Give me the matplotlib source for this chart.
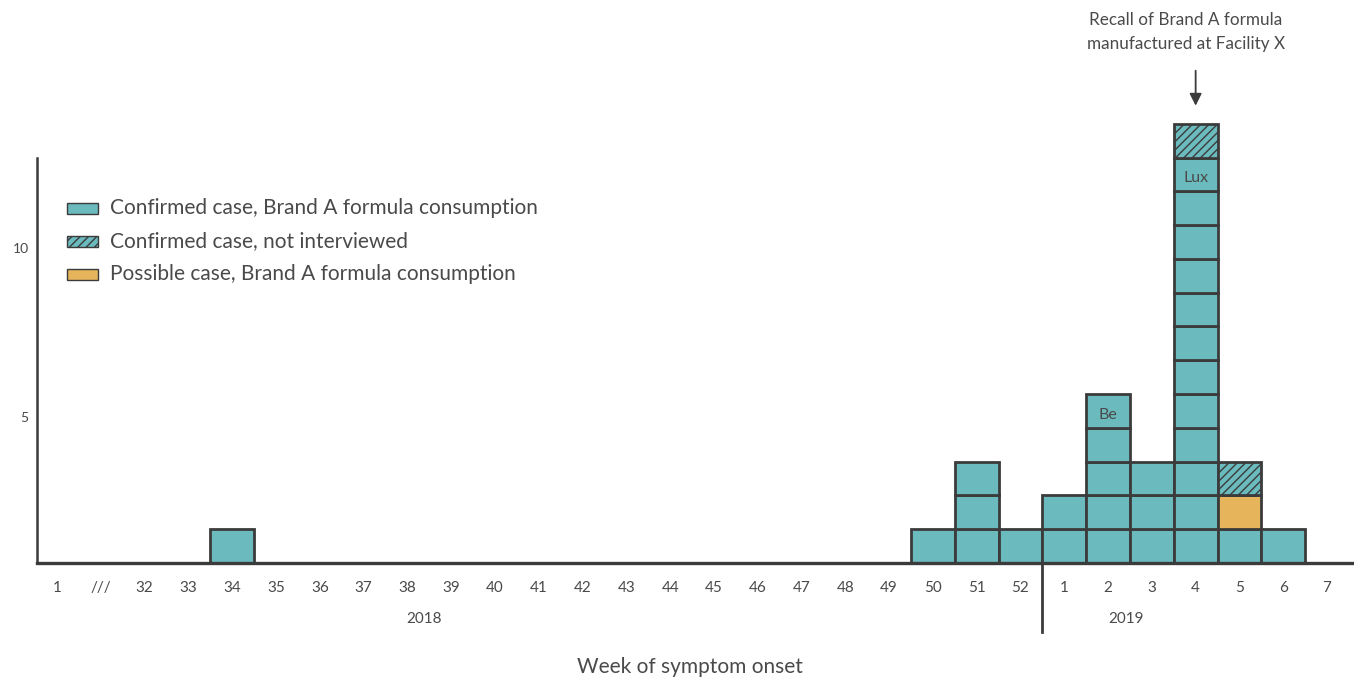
import numpy as np
import matplotlib.pyplot as plt

# Week categories on the x axis (2018: 1, gap, 32-52; 2019: 1-7)
weeks = ['1', '///'] + [str(w) for w in range(32, 53)] + [str(w) for w in range(1, 8)]

# cases per week by type, stacked bottom to top: confirmed, possible, not interviewed
confirmed = [0, 0, 0, 0, 1, 0, 0, 0, 0, 0, 0, 0, 0, 0, 0, 0, 0, 0, 0, 0, 1, 3, 1,
             2, 5, 3, 12, 1, 1, 0]
possible = [0] * 27 + [1, 0, 0]
not_interviewed = [0] * 26 + [1, 1, 0, 0]

# country labels written in a cell: (week index, cell level, text)
cell_labels = [(24, 4, 'Be'), (26, 11, 'Lux')]

teal = '#6bbabd'
orange = '#e6b55b'
edge = '#3b3b3b'
txt = '#4a4a4a'

plt.rcParams['font.family'] = ['Lato', 'DejaVu Sans']
plt.rcParams['hatch.linewidth'] = 1.0
plt.rcParams['hatch.color'] = edge

fig = plt.figure(figsize=(13.54, 6.8), dpi=100)
ax = fig.add_axes([0.0273, 0.172, 0.9712, 0.656])

x = np.arange(len(weeks))
for i in x:
    level = 0
    for n, fc, hatch in [(confirmed[i], teal, None),
                         (possible[i], orange, None),
                         (not_interviewed[i], teal, '////')]:
        for k in range(n):
            ax.bar(i, 1, bottom=level, width=1, color=fc, edgecolor=edge,
                   linewidth=2, hatch=hatch, clip_on=False, zorder=2)
            level += 1

for i, lev, s in cell_labels:
    ax.text(i, lev + 0.38, s, ha='center', va='center', fontsize=11.5, color=txt, zorder=3)

ax.set_xlim(-0.46, 29.57)
ax.set_ylim(0, 13.2)

for side in ['top', 'right']:
    ax.spines[side].set_visible(False)
ax.spines['left'].set_bounds(0, 12)
ax.spines['left'].set_linewidth(1.8)
ax.spines['left'].set_color(edge)
ax.spines['bottom'].set_linewidth(2.4)
ax.spines['bottom'].set_color(edge)
ax.spines['bottom'].set_zorder(4)

ax.set_xticks(x)
ax.set_xticklabels(weeks, fontsize=11, color=txt)
ax.set_yticks([4.32, 9.32])
ax.set_yticklabels(['5', '10'], fontsize=10, color=txt)
ax.tick_params(axis='x', length=0, pad=13)
ax.tick_params(axis='y', length=0, pad=6)

# year separator and year labels
ax.plot([22.5, 22.5], [0, -2.05], color=edge, linewidth=2, clip_on=False)
ax.text(8.38, -1.65, '2018', ha='center', va='center', fontsize=11, color=txt)
ax.text(24.4, -1.65, '2019', ha='center', va='center', fontsize=11, color=txt)
ax.text(14.45, -3.07, 'Week of symptom onset', ha='center', va='center',
        fontsize=15, color=txt)

# recall annotation
ax.annotate('', xy=(26, 13.45), xytext=(26, 14.65),
            arrowprops=dict(arrowstyle='-|>', color=edge, lw=1.3, mutation_scale=18),
            annotation_clip=False)
ax.text(25.78, 15.72, 'Recall of Brand A formula\nmanufactured at Facility X',
        ha='center', va='center', fontsize=12.3, color=txt, linespacing=1.65)

# legend drawn as patches
legend_items = [('Confirmed case, Brand A formula consumption', teal, None),
                ('Confirmed case, not interviewed', teal, '////'),
                ('Possible case, Brand A formula consumption', orange, None)]
for j, (lab, fc, hatch) in enumerate(legend_items):
    yy = 10.5 - j * 0.98
    ax.bar(0.585, 0.33, bottom=yy - 0.165, width=0.71, color=fc, edgecolor=edge,
           linewidth=1, hatch=hatch, zorder=2)
    ax.text(1.2, yy, lab, ha='left', va='center', fontsize=15, color=txt)

fig.savefig('out.png', dpi=100)
